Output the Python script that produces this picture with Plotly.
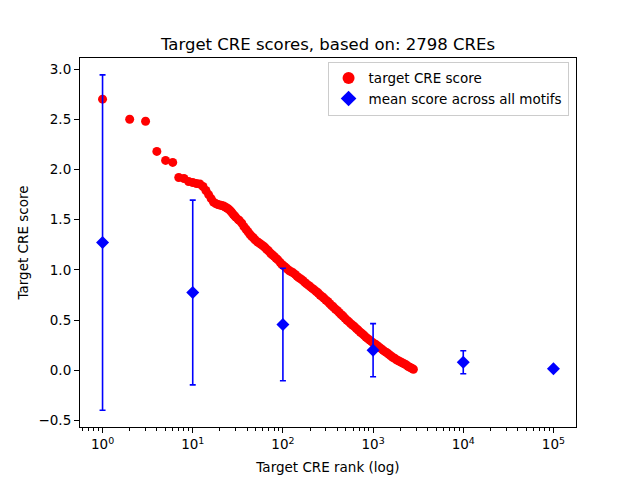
import plotly.graph_objects as go

# Target CRE scores (rank -> score)
cre_rank = [1, 2, 3, 4, 5, 6, 7, 8, 9, 10, 11, 12, 13, 14, 15, 16, 17, 18, 19, 20,
            21, 22, 23, 24, 25, 26, 27, 28, 29,
            30, 32, 33, 35, 37, 39, 41, 43, 45, 47, 49, 52, 54, 57, 60, 63, 66, 69,
            73, 76, 80, 84, 88, 93, 97, 102, 107, 113, 118, 124, 130, 137, 144, 151,
            158, 166, 175, 183, 193, 202, 212, 223, 234, 246, 258, 271, 284, 299,
            314, 329, 346, 363, 381, 400, 420, 441, 463, 486, 511, 536, 563, 591,
            621, 652, 684, 719, 755, 792, 832, 873, 917, 963, 1011, 1062, 1115,
            1170, 1229, 1290, 1355, 1423, 1494, 1568, 1647, 1729, 1816, 1907, 2002,
            2102, 2207, 2318, 2434, 2555, 2683, 2798]
cre_score = [2.70, 2.50, 2.48, 2.18, 2.09, 2.07, 1.92, 1.91, 1.88, 1.87, 1.86, 1.855,
             1.83, 1.79, 1.75, 1.71, 1.675, 1.66, 1.65, 1.645, 1.64, 1.635, 1.625,
             1.615, 1.605, 1.59, 1.575, 1.555, 1.54,
             1.525, 1.50, 1.49, 1.465, 1.43, 1.405, 1.38, 1.355, 1.335, 1.32, 1.30,
             1.28, 1.27, 1.255, 1.24, 1.225, 1.205, 1.19, 1.165, 1.15, 1.135, 1.115,
             1.10, 1.075, 1.055, 1.04, 1.025, 1.005, 0.99, 0.98, 0.97, 0.955, 0.935,
             0.92, 0.91, 0.895, 0.875, 0.86, 0.845, 0.83, 0.815, 0.80, 0.785, 0.77,
             0.75, 0.735, 0.72, 0.70, 0.685, 0.665, 0.645, 0.63, 0.61, 0.595, 0.575,
             0.555, 0.54, 0.52, 0.50, 0.485, 0.465, 0.45, 0.435, 0.415, 0.40, 0.38,
             0.365, 0.35, 0.33, 0.315, 0.30, 0.285, 0.27, 0.26, 0.245, 0.23, 0.215,
             0.20, 0.185, 0.175, 0.16, 0.145, 0.13, 0.12, 0.105, 0.095, 0.085, 0.075,
             0.065, 0.055, 0.04, 0.03, 0.02, 0.01]

# Mean score across all motifs with error
motif_rank = [1, 10, 100, 1000, 10000, 100000]
motif_mean = [1.272, 0.775, 0.456, 0.200, 0.080, 0.015]
motif_err = [1.670, 0.920, 0.560, 0.265, 0.115, 0.0]

major_ticks = [1, 10, 100, 1000, 10000, 100000]
major_text = ["10<sup>0</sup>", "10<sup>1</sup>", "10<sup>2</sup>", "10<sup>3</sup>",
              "10<sup>4</sup>", "10<sup>5</sup>"]
minor_ticks = [m * 10 ** k for k in range(-1, 6) for m in range(2, 10)
               if 0.56 < m * 10 ** k < 177000]

font = "DejaVu Sans"

fig = go.Figure()
fig.add_trace(go.Scatter(
    x=cre_rank, y=cre_score, mode="markers", name="target CRE score",
    marker=dict(color="red", size=9, line=dict(width=0)),
))
fig.add_trace(go.Scatter(
    x=motif_rank, y=motif_mean, mode="markers", name="mean score across all motifs",
    marker=dict(color="blue", symbol="diamond", size=10, line=dict(width=0)),
    error_y=dict(type="data", array=motif_err, visible=True, color="blue",
                 thickness=1.6, width=3),
))

fig.update_layout(
    width=640, height=480,
    margin=dict(l=80, r=64, t=57.6, b=52.8, autoexpand=False),
    paper_bgcolor="white", plot_bgcolor="white",
    font=dict(family=font, size=13.5, color="black"),
    title=dict(text="Target CRE scores, based on: 2798 CREs", x=0.5, xref="paper",
               y=1 - 44 / 480, yref="container", xanchor="center", yanchor="middle",
               font=dict(size=16.5, family=font, color="black")),
    showlegend=True,
    legend=dict(x=0.985, y=0.99, xanchor="right", yanchor="top",
                bgcolor="rgba(255,255,255,0.8)", bordercolor="#cccccc", borderwidth=1,
                font=dict(size=13.5, family=font), itemsizing="constant",
                tracegroupgap=0),
)

fig.update_xaxes(
    type="log", range=[-0.25, 5.25], automargin=False,
    tickvals=major_ticks, ticktext=major_text,
    ticks="outside", ticklen=5, tickwidth=1.1, tickcolor="black",
    showline=True, linecolor="black", linewidth=1.1, mirror=True,
    showgrid=False, zeroline=False,
    minor=dict(tickvals=minor_ticks, ticks="outside", ticklen=2.5, tickwidth=0.8,
               tickcolor="black", showgrid=False),
    title=dict(text="Target CRE rank (log)", standoff=11, font=dict(size=13.5)),
    tickfont=dict(size=13.5),
)
fig.update_yaxes(
    range=[-0.565, 3.11], automargin=False,
    tickvals=[-0.5, 0.0, 0.5, 1.0, 1.5, 2.0, 2.5, 3.0], tickformat=".1f",
    ticks="outside", ticklen=5, tickwidth=1.1, tickcolor="black",
    showline=True, linecolor="black", linewidth=1.1, mirror=True,
    showgrid=False, zeroline=False,
    title=dict(text="Target CRE score", standoff=6, font=dict(size=13.5)),
    tickfont=dict(size=13.5),
)

fig.write_html("out.html", config={"displayModeBar": False},
               post_script="document.body.style.margin='0px';")
